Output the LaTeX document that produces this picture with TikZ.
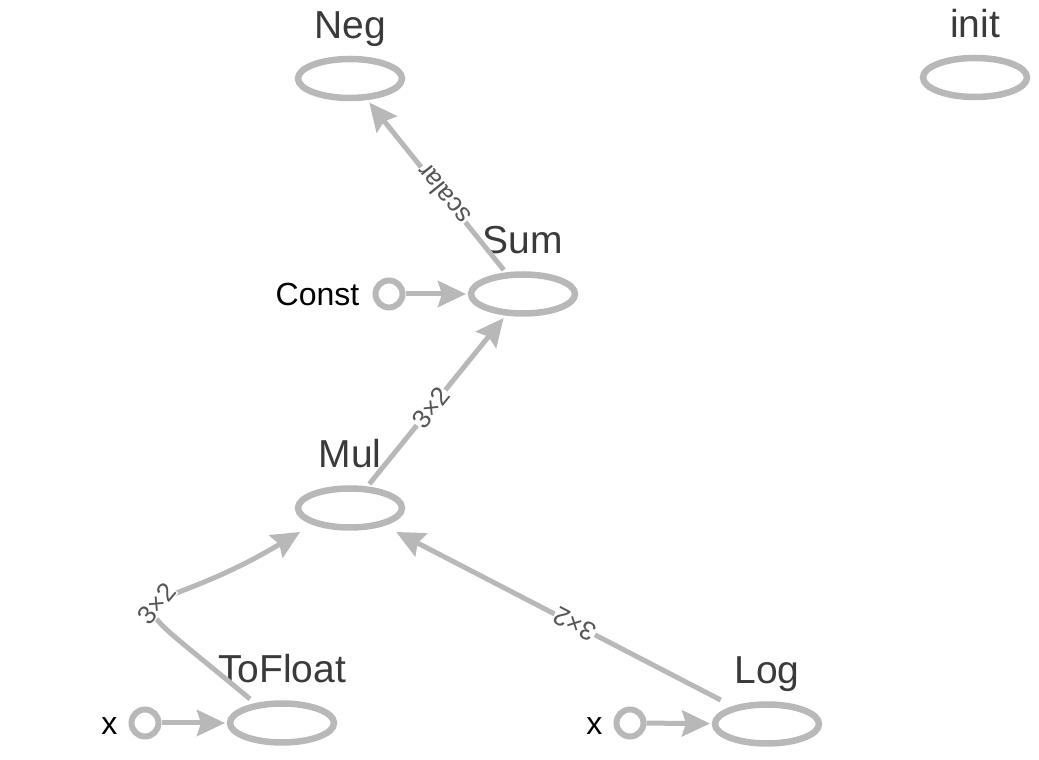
\documentclass[tikz,border=0pt]{standalone}
\usepackage{fontspec}
\setmainfont{Liberation Sans}
\usetikzlibrary{arrows.meta,calc}
\definecolor{linegray}{RGB}{184,184,184}
\definecolor{namegray}{RGB}{58,58,58}
\definecolor{lblgray}{RGB}{85,85,85}
\tikzset{
  opnode/.style={rectangle, minimum width=114pt, minimum height=48pt, inner sep=0pt, outer sep=0pt,
    path picture={\draw[linegray, line width=6.5pt] (path picture bounding box.center) ellipse [x radius=52pt, y radius=19.5pt];}},
  opname/.style={anchor=base, text=namegray, font=\fontsize{39}{41}\selectfont, inner sep=0pt},
  srcnode/.style={circle, draw=linegray, line width=6pt, minimum size=27pt, inner sep=0pt},
  srcname/.style={text=black, font=\fontsize{32}{34}\selectfont, inner sep=0pt},
  edge/.style={draw=linegray, line width=5pt, -{Stealth[length=28pt, width=26pt, inset=4pt]}},
  elabel/.style={sloped, allow upside down, text=lblgray, font=\fontsize{26}{28}\selectfont, fill=white, inner sep=0.5pt},
}
\begin{document}
\begin{tikzpicture}[x=1pt, y=1pt]
\useasboundingbox (0,0) rectangle (1039,760);
% operation nodes
\node[opnode] (Neg) at (350,681.5) {};
\node[opnode] (init) at (975,682.5) {};
\node[opnode] (Sum) at (523,466) {};
\node[opnode] (Mul) at (350,252) {};
\node[opnode] (ToFloat) at (282,37) {};
\node[opnode] (Log) at (767,36) {};
% names
\node[opname] (Neglbl) at ([yshift=16pt]Neg.north) {Neg};
\node[opname] (initlbl) at ([yshift=16pt]init.north) {init};
\node[opname] (Sumlbl) at ([yshift=16pt]Sum.north) {Sum};
\node[opname] (Mullbl) at ([yshift=16pt]Mul.north) {Mul};
\node[opname] (ToFloatlbl) at ([yshift=16pt]ToFloat.north) {ToFloat};
\node[opname] (Loglbl) at ([yshift=16pt]Log.north) {Log};
% source nodes
\node[srcnode, label={[srcname, label distance=13pt]left:Const}] (const) at (389,466) {};
\node[srcnode, label={[srcname, label distance=11pt, yshift=-3pt]left:x}] (xa) at (145,37) {};
\node[srcnode, label={[srcname, label distance=11pt, yshift=-3pt]left:x}] (xb) at (630,37) {};
% edges
\draw[edge] (const) -- (Sum);
\draw[edge] (xa) -- (ToFloat);
\draw[edge] (xb) -- (Log);
\draw[edge] (Sum) -- (Neg) node[elabel, pos=0.45] {scalar};
\draw[edge] (Mul) -- (Sum) node[elabel, pos=0.46] {3×2};
\draw[edge] (Log) -- (Mul) node[elabel, pos=0.45] {3×2};
\draw[edge] ([xshift=-32pt]ToFloat.north) .. controls +(140:200pt) and +(211:190pt) .. ([xshift=7pt]Mul.south west) node[elabel, pos=0.5] {3×2};
\end{tikzpicture}
\end{document}
